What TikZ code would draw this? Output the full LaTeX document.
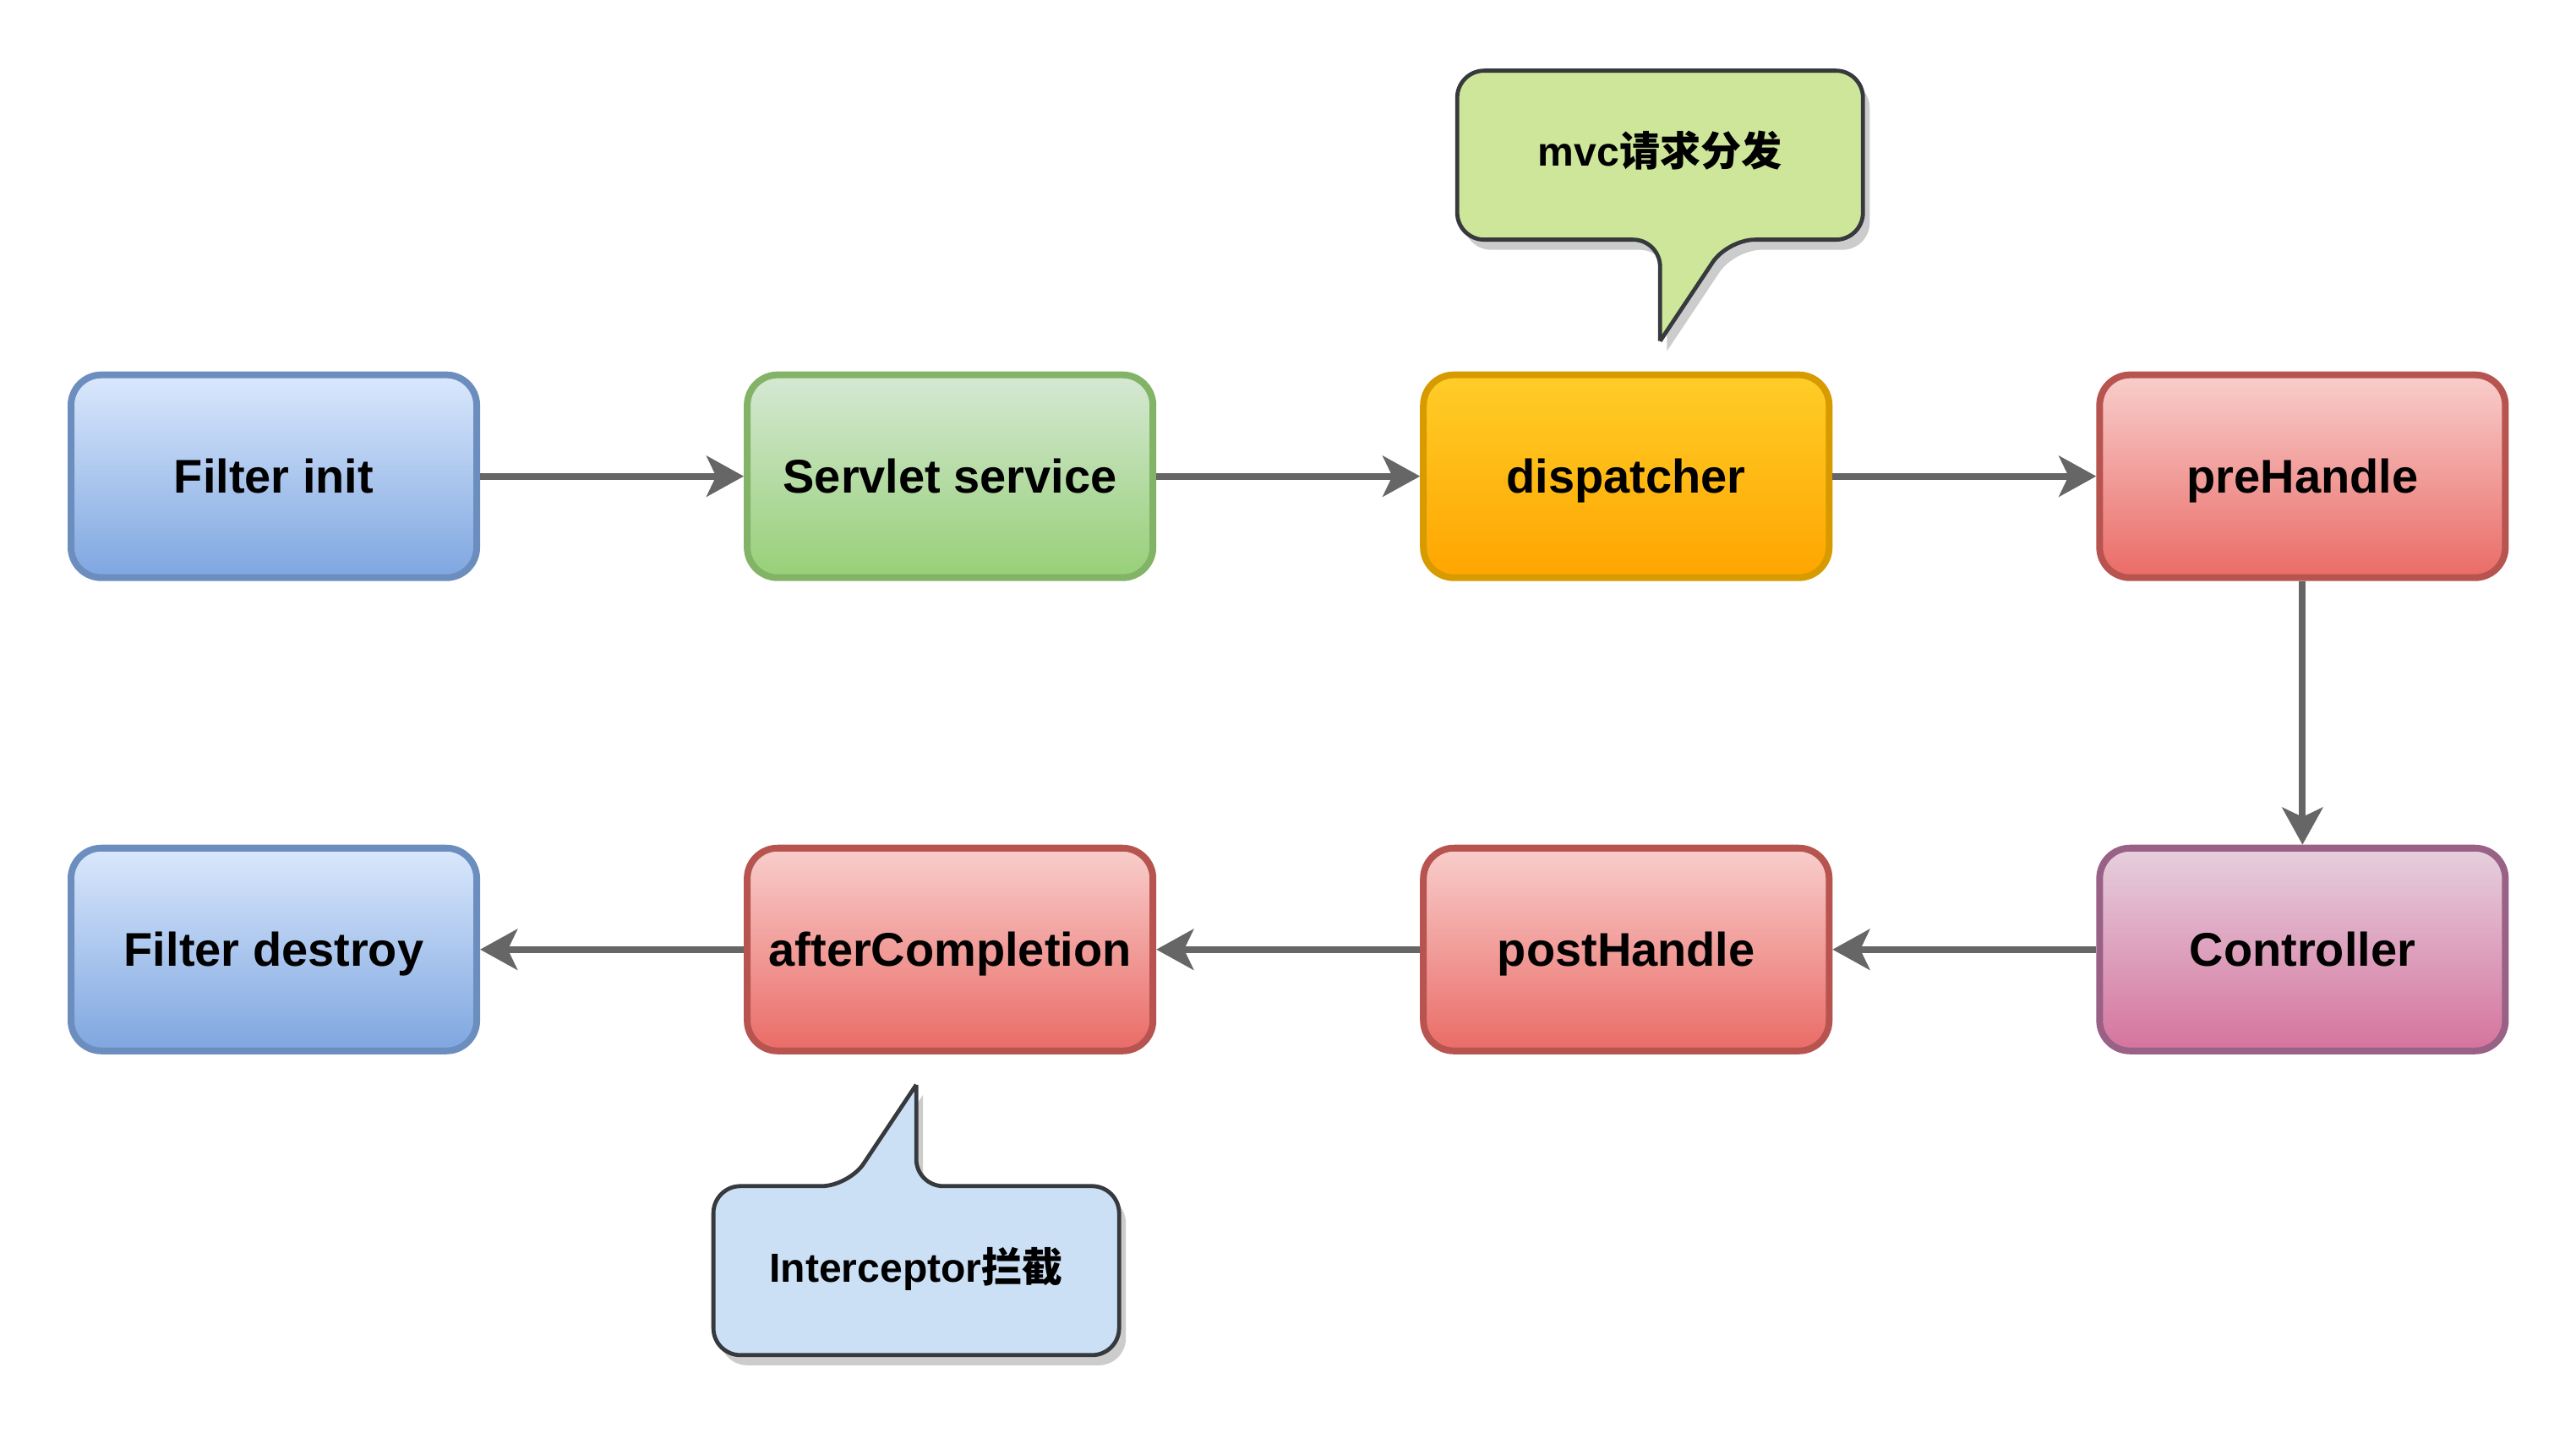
\documentclass[tikz,border=0pt]{standalone}
\usepackage{fontspec}
\setmainfont{Liberation Sans}
\newfontfamily\cjk{Noto Sans CJK SC}
\usetikzlibrary{arrows.meta,shadows}

\definecolor{blueTop}{HTML}{DAE8FC}
\definecolor{blueBot}{HTML}{7EA6E0}
\definecolor{blueLine}{HTML}{6C8EBF}
\definecolor{greenTop}{HTML}{D5E8D4}
\definecolor{greenBot}{HTML}{97D077}
\definecolor{greenLine}{HTML}{82B366}
\definecolor{orangeTop}{HTML}{FFCD28}
\definecolor{orangeBot}{HTML}{FFA500}
\definecolor{orangeLine}{HTML}{D79B00}
\definecolor{redTop}{HTML}{F8CECC}
\definecolor{redBot}{HTML}{EA6B66}
\definecolor{redLine}{HTML}{B85450}
\definecolor{purpleTop}{HTML}{E6D0DE}
\definecolor{purpleBot}{HTML}{D5739D}
\definecolor{purpleLine}{HTML}{996185}
\definecolor{flowGray}{HTML}{666666}
\definecolor{calloutLine}{HTML}{36393D}
\definecolor{calloutGreen}{HTML}{CDE699}
\definecolor{calloutBlue}{HTML}{CCE0F5}

\begin{document}
\begin{tikzpicture}[x=0.5mm,y=-0.5mm,
	box/.style={rounded corners=4.5mm, line width=1mm, minimum width=6cm, minimum height=3cm,
		text height=14.25pt, text depth=0pt, font=\fontsize{19.9}{24}\selectfont\bfseries},
	bluebox/.style={box, draw=blueLine, top color=blueTop, bottom color=blueBot},
	greenbox/.style={box, draw=greenLine, top color=greenTop, bottom color=greenBot},
	orangebox/.style={box, draw=orangeLine, top color=orangeTop, bottom color=orangeBot},
	redbox/.style={box, draw=redLine, top color=redTop, bottom color=redBot},
	purplebox/.style={box, draw=purpleLine, top color=purpleTop, bottom color=purpleBot},
	flow/.style={draw=flowGray, line width=1mm, -{Stealth[length=5.5mm,width=6mm,inset=1.4mm]}},
	callout/.style={draw=calloutLine, line width=0.6mm, rounded corners=4mm,
		drop shadow={shadow xshift=1mm, shadow yshift=-1.5mm, fill=black!20, draw=none, opacity=1}},
	callouttext/.style={text height=12.24pt, text depth=0pt, font=\fontsize{17.1}{20}\selectfont\bfseries}]
	\useasboundingbox (0,-0.9) rectangle (761.9,423.0);
	
	% Request path
	\node[bluebox] (finit) at (81,140) {Filter init};
	\node[greenbox] (servlet) at (281,140) {Servlet service};
	\node[orangebox] (dispatch) at (481,140) {dispatcher};
	\node[redbox] (prehandle) at (681,140) {preHandle};
	
	% Return path
	\node[bluebox] (fdestroy) at (81,280) {Filter destroy};
	\node[redbox] (aftercomp) at (281,280) {afterCompletion};
	\node[redbox] (posthandle) at (481,280) {postHandle};
	\node[purplebox] (controller) at (681,280) {Controller};
	
	% Flow arrows
	\draw[flow] (finit) -- (servlet);
	\draw[flow] (servlet) -- (dispatch);
	\draw[flow] (dispatch) -- (prehandle);
	\draw[flow] (prehandle) -- (controller);
	\draw[flow] (controller) -- (posthandle);
	\draw[flow] (posthandle) -- (aftercomp);
	\draw[flow] (aftercomp) -- (fdestroy);
	
	% Callouts
	\draw[callout, fill=calloutGreen] (491,100) -- (491,70) -- (431,70) -- (431,20)
		-- (551,20) -- (551,70) -- (511,70) -- (491,100);
	\node[callouttext] (mvcnote) at (491,44) {mvc{\cjk 请求分发}};
	
	\draw[callout, fill=calloutBlue] (271,320) -- (271,350) -- (331,350) -- (331,400)
		-- (211,400) -- (211,350) -- (251,350) -- (271,320);
	\node[callouttext] (icptnote) at (271,374) {Interceptor{\cjk 拦截}};
\end{tikzpicture}
\end{document}
